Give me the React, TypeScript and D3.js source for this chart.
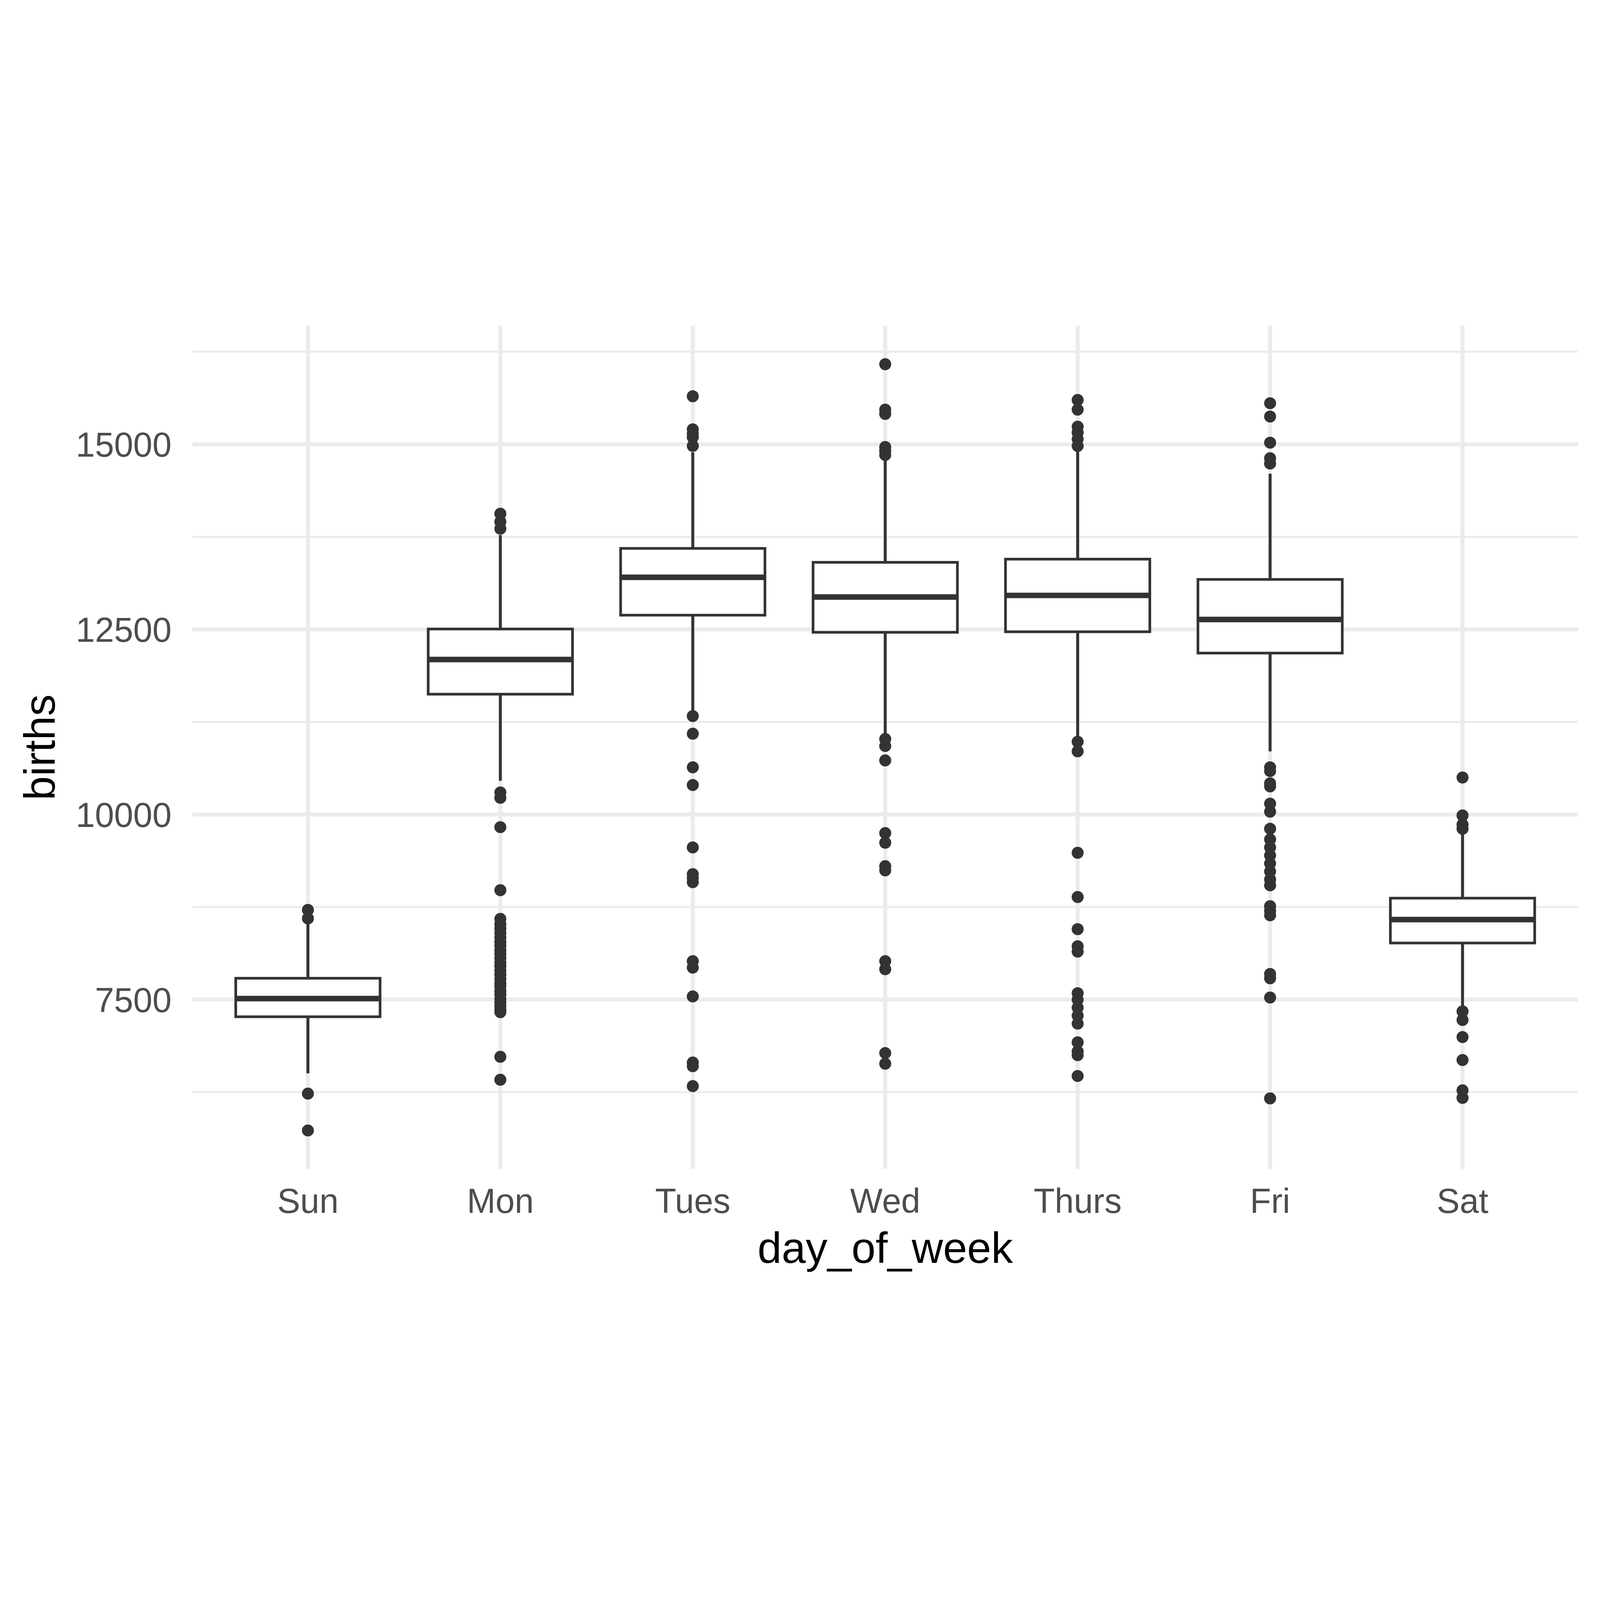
import React, { useEffect, useRef } from "react";
import * as d3 from "d3";

// box statistics
const days = ["Sun", "Mon", "Tues", "Wed", "Thurs", "Fri", "Sat"];
const q1 = [7268, 11625, 12692, 12461, 12468, 12180, 8264];
const medians = [7513, 12093, 13204, 12937, 12959, 12634, 8581];
const q3 = [7788, 12505, 13594, 13406, 13449, 13175, 8870];
const whiskerLow = [6504, 10456, 11394, 11069, 11033, 10853, 7391];
const whiskerHigh = [8530, 13774, 14892, 14784, 14906, 14603, 9735];

const outliersSun = [8711, 8596, 6230, 5732];
const outliersMon = [
  14062, 13954, 13860, 10298, 10225, 9829, 8978, 8590, 8520, 8460, 8400, 8340,
  8280, 8230, 8170, 8120, 8060, 8000, 7950, 7890, 7840, 7780, 7720, 7680, 7620,
  7570, 7510, 7460, 7410, 7360, 7330, 6727, 6417,
];
const outliersTues = [
  15649, 15202, 15144, 15094, 14978, 11329, 11091, 10637, 10398, 9555, 9194,
  9143, 9086, 8019, 7932, 7542, 6650, 6600, 6331,
];
const outliersWed = [
  16082, 15469, 15411, 14964, 14913, 14856, 11019, 10925, 10730, 9749, 9619,
  9302, 9245, 8019, 7910, 6778, 6634,
];
const outliersThurs = [
  15599, 15469, 15238, 15159, 15072, 14978, 10983, 10853, 9483, 8885, 8451,
  8220, 8148, 7586, 7499, 7391, 7283, 7175, 6922, 6800, 6749, 6468,
];
const outliersFri = [
  15555, 15375, 15022, 14812, 14740, 10637, 10586, 10420, 10380, 10146, 10038,
  9807, 9663, 9555, 9447, 9338, 9230, 9122, 9043, 8761, 8700, 8639, 7846, 7788,
  7528, 6165,
];
const outliersSat = [10500, 9987, 9865, 9807, 7340, 7225, 6994, 6684, 6273, 6172];

const outliers = [
  outliersSun, outliersMon, outliersTues, outliersWed,
  outliersThurs, outliersFri, outliersSat,
];

const yMajorTicks = [7500, 10000, 12500, 15000];
const yMinorTicks = [6250, 8750, 11250, 13750, 16250];

const W = 7200;
const H = 4449;

export default function App() {
  const ref = useRef<SVGSVGElement>(null);

  useEffect(() => {
    document.body.style.margin = "0";
    document.body.style.overflow = "hidden";
    document.documentElement.style.overflow = "hidden";
    if (!ref.current) return;
    const svg = d3.select(ref.current);
    svg.selectAll("*").remove();

    const panel = { left: 866, right: 7101, top: 91, bottom: 3884 };
    const font = "'Liberation Sans', Arial, Helvetica, sans-serif";

    const allVals = [...whiskerLow, ...whiskerHigh, ...outliers.flat()];
    const [lo, hi] = d3.extent(allVals) as [number, number];
    const pad = (hi - lo) * 0.05;

    const y = d3.scaleLinear()
      .domain([lo - pad, hi + pad])
      .range([panel.bottom, panel.top]);

    const x = d3.scalePoint<string>()
      .domain(days)
      .range([panel.left, panel.right])
      .padding(0.6);

    const boxW = x.step() * 0.75;

    svg.append("rect").attr("width", W).attr("height", H).attr("fill", "white");

    // grid
    const grid = svg.append("g");
    grid.selectAll("line.minor")
      .data(yMinorTicks)
      .enter()
      .append("line")
      .attr("x1", panel.left)
      .attr("x2", panel.right)
      .attr("y1", d => y(d))
      .attr("y2", d => y(d))
      .attr("stroke", "#EBEBEB")
      .attr("stroke-width", 9);
    grid.selectAll("line.major")
      .data(yMajorTicks)
      .enter()
      .append("line")
      .attr("x1", panel.left)
      .attr("x2", panel.right)
      .attr("y1", d => y(d))
      .attr("y2", d => y(d))
      .attr("stroke", "#EBEBEB")
      .attr("stroke-width", 18);
    grid.selectAll("line.vert")
      .data(days)
      .enter()
      .append("line")
      .attr("x1", d => x(d)!)
      .attr("x2", d => x(d)!)
      .attr("y1", panel.top)
      .attr("y2", panel.bottom)
      .attr("stroke", "#EBEBEB")
      .attr("stroke-width", 18);

    // boxes
    const ink = "#333333";
    const boxes = svg.append("g");
    days.forEach((day, i) => {
      const cx = x(day)!;
      const g = boxes.append("g");

      g.selectAll("circle")
        .data(outliers[i])
        .enter()
        .append("circle")
        .attr("cx", cx)
        .attr("cy", d => y(d))
        .attr("r", 27)
        .attr("fill", ink);

      g.append("line")
        .attr("x1", cx).attr("x2", cx)
        .attr("y1", y(q3[i])).attr("y2", y(whiskerHigh[i]))
        .attr("stroke", ink).attr("stroke-width", 13);
      g.append("line")
        .attr("x1", cx).attr("x2", cx)
        .attr("y1", y(q1[i])).attr("y2", y(whiskerLow[i]))
        .attr("stroke", ink).attr("stroke-width", 13);

      g.append("rect")
        .attr("x", cx - boxW / 2)
        .attr("y", y(q3[i]))
        .attr("width", boxW)
        .attr("height", y(q1[i]) - y(q3[i]))
        .attr("fill", "white")
        .attr("stroke", ink)
        .attr("stroke-width", 12);

      g.append("line")
        .attr("x1", cx - boxW / 2).attr("x2", cx + boxW / 2)
        .attr("y1", y(medians[i])).attr("y2", y(medians[i]))
        .attr("stroke", ink).attr("stroke-width", 25);
    });

    // axis labels
    svg.append("g")
      .selectAll("text")
      .data(yMajorTicks)
      .enter()
      .append("text")
      .attr("x", 772)
      .attr("y", d => y(d) + 56)
      .attr("text-anchor", "end")
      .attr("font-family", font)
      .attr("font-size", 155)
      .attr("fill", "#4D4D4D")
      .text(d => String(d));

    svg.append("g")
      .selectAll("text")
      .data(days)
      .enter()
      .append("text")
      .attr("x", d => x(d)!)
      .attr("y", 4083)
      .attr("text-anchor", "middle")
      .attr("font-family", font)
      .attr("font-size", 155)
      .attr("fill", "#4D4D4D")
      .text(d => d);

    svg.append("text")
      .attr("x", (panel.left + panel.right) / 2)
      .attr("y", 4308)
      .attr("text-anchor", "middle")
      .attr("font-family", font)
      .attr("font-size", 195)
      .attr("fill", "black")
      .text("day_of_week");

    svg.append("text")
      .attr("transform", `translate(246,${(panel.top + panel.bottom) / 2}) rotate(-90)`)
      .attr("text-anchor", "middle")
      .attr("font-family", font)
      .attr("font-size", 195)
      .attr("fill", "black")
      .text("births");
  }, []);

  return (
    <svg
      ref={ref}
      viewBox={`0 0 ${W} ${H}`}
      preserveAspectRatio="xMidYMid meet"
      style={{ display: "block", width: "100vw", height: "100vh" }}
    />
  );
}
